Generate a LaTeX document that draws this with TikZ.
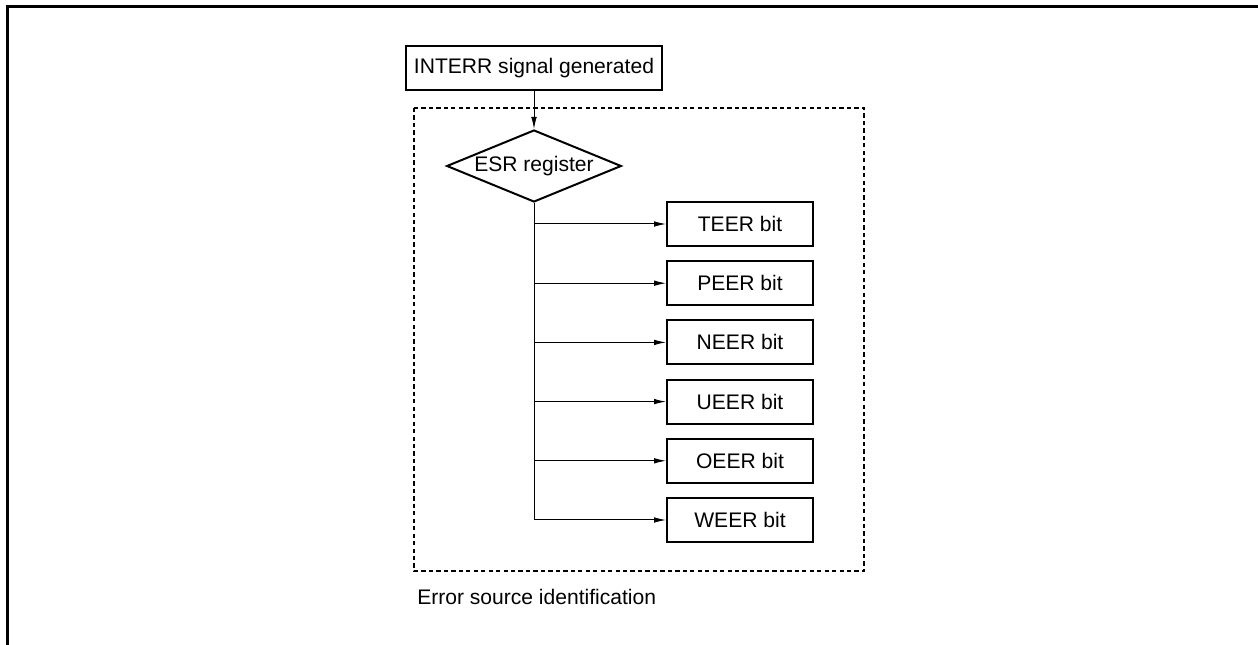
\documentclass[tikz,border=0pt]{standalone}
\usepackage{fontspec}
\setmainfont{Liberation Sans}
\usetikzlibrary{arrows.meta,positioning,shapes.geometric}

\begin{document}
\begin{tikzpicture}[
  x=0.75pt, y=-0.75pt,
  node distance=9.9pt,
  every node/.style={font=\fontsize{15.8}{19}\selectfont},
  box/.style={draw, line width=1.5pt, minimum height=33pt, align=center, inner sep=4pt},
  bitbox/.style={box, minimum width=109.5pt},
  decide/.style={draw, diamond, line width=1.5pt, aspect=2.4, inner sep=0pt, minimum width=131pt, minimum height=54pt},
  arr/.style={-{Latex[length=9pt, width=4.2pt]}, line width=0.75pt},
  area/.style={line width=0.8pt, dash pattern=on 3.2pt off 2.4pt}
]
\useasboundingbox (0,0) rectangle (1258,645);
\draw[line width=2.25pt] (7,645) -- (7,7) -- (1258,7);

\node[box, minimum width=192pt] (interr) at (534,68.5) {INTERR signal generated};
\node[decide] (esr) at (534,166) {ESR register};

\node[bitbox] (teer) at (740,224) {TEER bit};
\node[bitbox, below=of teer] (peer) {PEER bit};
\node[bitbox, below=of peer] (neer) {NEER bit};
\node[bitbox, below=of neer] (ueer) {UEER bit};
\node[bitbox, below=of ueer] (oeer) {OEER bit};
\node[bitbox, below=of oeer] (weer) {WEER bit};

% error source area
\draw[area] (414,108) rectangle (864,571);
\node[anchor=west, inner sep=0pt] (caption) at (417,597) {Error source identification};

\draw[arr] (interr) -- (esr);
\draw[arr] (esr.south) |- (weer);
\draw[arr] (esr.south |- teer.west) -- (teer);
\draw[arr] (esr.south |- peer.west) -- (peer);
\draw[arr] (esr.south |- neer.west) -- (neer);
\draw[arr] (esr.south |- ueer.west) -- (ueer);
\draw[arr] (esr.south |- oeer.west) -- (oeer);
\end{tikzpicture}
\end{document}
